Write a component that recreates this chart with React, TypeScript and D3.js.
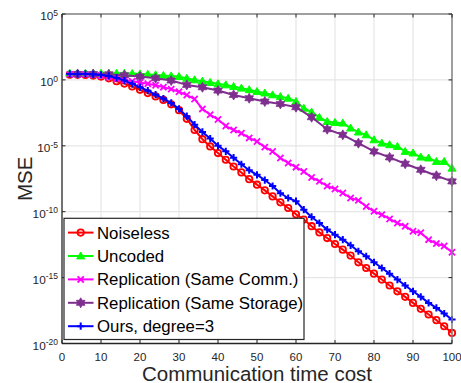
import React from "react";
import * as d3 from "d3";

// x values (communication time cost)
const xStep2 = [2,4,6,8,10,12,14,16,18,20,22,24,26,28,30,32,34,36,38,40,42,44,46,48,50,52,54,56,58,60,62,64,66,68,70,72,74,76,78,80,82,84,86,88,90,92,94,96,98,100];
const xStep4 = [4,8,12,16,20,24,28,32,36,40,44,48,52,56,60,64,68,72,76,80,84,88,92,96,100];

// log10(MSE) values
const noiselessLog = [0.4,0.4,0.38,0.33,0.25,0.12,-0.1,-0.28,-0.5,-0.75,-1.0,-1.25,-1.52,-1.85,-2.3,-2.95,-3.8,-4.5,-5.05,-5.55,-6.06,-6.57,-7.02,-7.53,-7.95,-8.38,-8.84,-9.29,-9.72,-10.2,-10.6,-11.1,-11.57,-12.0,-12.45,-12.88,-13.33,-13.84,-14.27,-14.7,-15.15,-15.6,-16.04,-16.46,-16.92,-17.37,-17.8,-18.23,-18.69,-19.2];
const uncodedLog = [0.5,0.5,0.5,0.5,0.5,0.5,0.5,0.5,0.48,0.45,0.42,0.38,0.33,0.3,0.25,0.12,0.0,-0.1,-0.2,-0.3,-0.38,-0.5,-0.63,-0.75,-0.88,-1.0,-1.14,-1.27,-1.39,-1.64,-2.15,-2.45,-2.85,-3.16,-3.23,-3.28,-3.66,-3.96,-4.17,-4.55,-4.8,-4.92,-5.05,-5.43,-5.55,-5.86,-5.93,-6.19,-6.19,-6.7];
const replCommLog = [0.42,0.42,0.42,0.4,0.33,0.22,0.1,0.0,-0.1,-0.2,-0.3,-0.4,-0.55,-0.7,-0.9,-1.15,-1.45,-2.2,-2.65,-3.0,-3.5,-3.8,-4.05,-4.4,-4.67,-5.1,-5.43,-5.93,-6.3,-6.62,-6.95,-7.4,-7.7,-8.05,-8.28,-8.58,-8.96,-9.14,-9.6,-9.97,-10.23,-10.55,-10.86,-11.1,-11.49,-11.6,-12.12,-12.42,-12.6,-13.08];
const replStorageLog = [0.45,0.45,0.42,0.35,0.25,0.13,-0.05,-0.38,-0.56,-0.81,-1.14,-1.39,-1.64,-1.82,-2.07,-2.83,-3.74,-4.17,-4.8,-5.43,-5.88,-6.36,-6.82,-7.27,-7.7];
const oursLog = [0.45,0.45,0.45,0.42,0.38,0.3,0.15,-0.05,-0.3,-0.55,-0.82,-1.12,-1.42,-1.75,-2.2,-2.75,-3.4,-3.95,-4.45,-5.0,-5.42,-5.9,-6.4,-6.85,-7.2,-7.6,-8.05,-8.6,-8.96,-9.2,-9.85,-10.4,-10.86,-11.36,-11.74,-12.12,-12.55,-13.0,-13.38,-13.84,-14.27,-14.7,-15.15,-15.6,-16.04,-16.46,-16.92,-17.3,-17.73,-18.18];

const seriesNames = ["Noiseless", "Uncoded", "Replication (Same Comm.)", "Replication (Same Storage)", "Ours, degree=3"];
const xTicks = [0,10,20,30,40,50,60,70,80,90,100];
const yTickExps = [5,0,-5,-10,-15,-20];

const W = 461, H = 383;
const M = { left: 62, right: 452, top: 14, bottom: 343.5 };
const FONT = "'Liberation Sans', Arial, Helvetica, sans-serif";

type Marker = "circle" | "triangle" | "x" | "hexagram" | "plus";

function MarkerShape({ kind, x, y, color }: { kind: Marker; x: number; y: number; color: string }) {
  if (kind === "circle") return <circle cx={x} cy={y} r={3.2} fill="none" stroke={color} strokeWidth={1.8} />;
  if (kind === "triangle") {
    const p = d3.symbol().type(d3.symbolTriangle).size(28)();
    return <path d={p || ""} transform={`translate(${x},${y + 0.6})`} fill={color} stroke={color} strokeWidth={1} />;
  }
  if (kind === "x") {
    const s = 3.1;
    return <path d={`M${x - s},${y - s}L${x + s},${y + s}M${x - s},${y + s}L${x + s},${y - s}`} stroke={color} strokeWidth={1.8} />;
  }
  if (kind === "plus") {
    const s = 3.6;
    return <path d={`M${x - s},${y}L${x + s},${y}M${x},${y - s}L${x},${y + s}`} stroke={color} strokeWidth={2} />;
  }
  // hexagram
  const pts: string[] = [];
  for (let i = 0; i < 12; i++) {
    const r = i % 2 === 0 ? 5 : 2.9;
    const a = (Math.PI / 6) * i - Math.PI / 2;
    pts.push(`${x + r * Math.cos(a)},${y + r * Math.sin(a)}`);
  }
  return <polygon points={pts.join(" ")} fill={color} stroke={color} strokeWidth={0.8} />;
}

export default function App() {
  const xs = d3.scaleLinear().domain([0, 100]).range([M.left, M.right]);
  const ys = d3.scaleLog().domain([1e-20, 1e5]).range([M.bottom, M.top]);

  const series = [
    { name: seriesNames[0], x: xStep2, y: noiselessLog, color: "#ff0000", marker: "circle" as Marker },
    { name: seriesNames[1], x: xStep2, y: uncodedLog, color: "#00ff00", marker: "triangle" as Marker },
    { name: seriesNames[2], x: xStep2, y: replCommLog, color: "#ff00ff", marker: "x" as Marker },
    { name: seriesNames[3], x: xStep4, y: replStorageLog, color: "#7e2f8e", marker: "hexagram" as Marker },
    { name: seriesNames[4], x: xStep2, y: oursLog, color: "#0000ff", marker: "plus" as Marker },
  ];

  const line = d3.line<[number, number]>().x(d => xs(d[0])).y(d => ys(Math.pow(10, d[1])));

  const leg = { x0: 64, y0: 218.3, x1: 304, y1: 339.5, row0: 232.6, step: 23.4 };

  return (
    <svg width={W} height={H} style={{ position: "fixed", left: 0, top: 0, background: "#fff" }} fontFamily={FONT}>
      <rect x={0} y={0} width={W} height={H} fill="#fff" />
      {/* grid */}
      {xTicks.slice(1, -1).map(t => (
        <line key={"gx" + t} x1={xs(t)} x2={xs(t)} y1={M.top} y2={M.bottom} stroke="#e6e6e6" strokeWidth={1.2} />
      ))}
      {yTickExps.slice(1, -1).map(e => (
        <line key={"gy" + e} x1={M.left} x2={M.right} y1={ys(Math.pow(10, e))} y2={ys(Math.pow(10, e))} stroke="#e6e6e6" strokeWidth={1.2} />
      ))}
      {/* series */}
      {series.map(s => {
        const pts = s.x.map((xv, i) => [xv, s.y[i]] as [number, number]);
        return (
          <g key={s.name}>
            <path d={line(pts) || ""} fill="none" stroke={s.color} strokeWidth={2} strokeLinejoin="round" />
            {pts.map((p, i) => (
              <MarkerShape key={i} kind={s.marker} x={xs(p[0])} y={ys(Math.pow(10, p[1]))} color={s.color} />
            ))}
          </g>
        );
      })}
      {/* axes box */}
      <line x1={M.left} x2={M.right} y1={M.top} y2={M.top} stroke="#7f7f7f" strokeWidth={1.5} />
      <line x1={M.right} x2={M.right} y1={M.top} y2={M.bottom} stroke="#7f7f7f" strokeWidth={1.5} />
      <line x1={M.left} x2={M.right} y1={M.bottom} y2={M.bottom} stroke="#262626" strokeWidth={1.3} />
      <line x1={M.left} x2={M.left} y1={M.top} y2={M.bottom} stroke="#262626" strokeWidth={1.3} />
      {/* ticks */}
      {xTicks.map(t => (
        <g key={"tx" + t}>
          <line x1={xs(t)} x2={xs(t)} y1={M.bottom} y2={M.bottom - 3.5} stroke="#262626" strokeWidth={1} />
          <line x1={xs(t)} x2={xs(t)} y1={M.top} y2={M.top + 3.5} stroke="#262626" strokeWidth={1} />
          <text x={xs(t)} y={361} textAnchor="middle" fontSize={11.5} fill="#262626">{t}</text>
        </g>
      ))}
      {yTickExps.map(e => {
        const y = ys(Math.pow(10, e));
        return (
          <g key={"ty" + e}>
            <line x1={M.left} x2={M.left + 3.5} y1={y} y2={y} stroke="#262626" strokeWidth={1} />
            <line x1={M.right} x2={M.right - 3.5} y1={y} y2={y} stroke="#262626" strokeWidth={1} />
            <text x={58} y={y + 6.3} textAnchor="end" fontSize={11.8} fill="#262626">
              10<tspan fontSize={8.5} dy={-4.6}>{e}</tspan>
            </text>
          </g>
        );
      })}
      {/* axis labels */}
      <text x={(M.left + M.right) / 2} y={380.5} textAnchor="middle" fontSize={20.5} fill="#262626">Communication time cost</text>
      <text transform={`translate(31.5,${(M.top + M.bottom) / 2}) rotate(-90)`} textAnchor="middle" fontSize={20.5} fill="#262626">MSE</text>
      {/* legend */}
      <rect x={leg.x0} y={leg.y0} width={leg.x1 - leg.x0} height={leg.y1 - leg.y0} fill="#fff" stroke="#262626" strokeWidth={1.2} />
      {series.map((s, i) => {
        const cy = leg.row0 + i * leg.step;
        return (
          <g key={"lg" + i}>
            <line x1={68} x2={93.5} y1={cy} y2={cy} stroke={s.color} strokeWidth={2} />
            <MarkerShape kind={s.marker} x={80.7} y={cy} color={s.color} />
            <text x={97} y={cy + 5.9} fontSize={16.8} fill="#000">{s.name}</text>
          </g>
        );
      })}
    </svg>
  );
}
